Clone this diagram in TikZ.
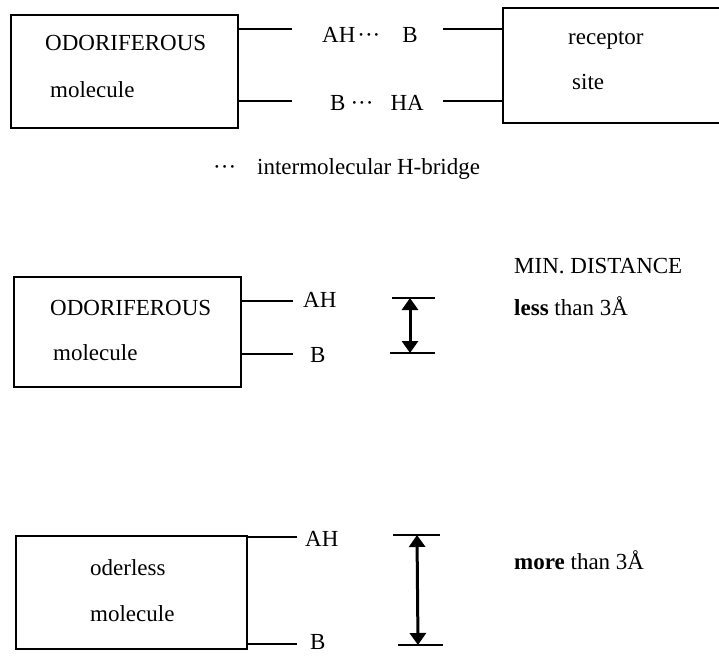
\documentclass[tikz,border=0pt]{standalone}
\usepackage{fontspec}
\setmainfont{Liberation Serif}
\usetikzlibrary{arrows.meta}

\begin{document}
\begin{tikzpicture}[x=1pt,y=-1pt,
  box/.style={draw, line width=1.6pt, rectangle, inner sep=0pt, anchor=north west},
  lbl/.style={anchor=base west, inner sep=0pt, font=\fontsize{23}{27}\selectfont},
  link/.style={line width=1.6pt},
  bar/.style={line width=1.6pt},
  span/.style={line width=3pt, {Triangle[length=12pt,width=16pt]}-{Triangle[length=12pt,width=16pt]}}
]
\clip (0,0) rectangle (719,655);

% ---------- odoriferous molecule bound to the receptor site ----------
\node[box, minimum width=227pt, minimum height=113pt] (mol1) at (10,14) {};
\node[box, minimum width=240pt, minimum height=115pt] (rec) at (502,7) {};
\node[lbl] (t1a) at (45,50.5) {ODORIFEROUS};
\node[lbl] (t1b) at (50,98) {molecule};
\node[lbl] (t1c) at (568,45) {receptor};
\node[lbl] (t1d) at (572,90) {site};

\node[lbl] (hb1) at (322,42.5) {AH\hspace{2pt}···\hspace{22pt}B};
\node[lbl] (hb2) at (330,110.5) {B\hspace{5pt}···\hspace{17pt}HA};

\coordinate (u1) at (292,29);
\coordinate (u2) at (443,29);
\coordinate (l1) at (292,101);
\coordinate (l2) at (443,101);
\draw[link] (mol1.east |- u1) -- (u1);
\draw[link] (u2) -- (rec.west |- u2);
\draw[link] (mol1.east |- l1) -- (l1);
\draw[link] (l2) -- (rec.west |- l2);

\node[lbl] (legend) at (213,175) {···\hspace{21pt}intermolecular H-bridge};

% ---------- odoriferous molecule: short AH--B distance ----------
\node[box, minimum width=227pt, minimum height=110pt] (mol2) at (13,276) {};
\node[lbl] (t2a) at (50,315.5) {ODORIFEROUS};
\node[lbl] (t2b) at (53,360) {molecule};
\coordinate (a2) at (293,301);
\coordinate (b2) at (293,354);
\draw[link] (mol2.east |- a2) -- (a2);
\draw[link] (mol2.east |- b2) -- (b2);
\node[lbl] (ah2) at (303,307) {AH};
\node[lbl] (bb2) at (310,362) {B};

\coordinate (p2l) at (392,298);
\coordinate (p2r) at (435,298);
\coordinate (q2l) at (390,353);
\coordinate (q2r) at (435,353);
\draw[bar] (p2l) -- (p2r);
\draw[bar] (q2l) -- (q2r);
\coordinate (d2a) at (410,298);
\coordinate (d2b) at (410,353);
\draw[span] (d2a) -- (d2b);

\node[lbl] (md) at (514,273) {MIN. DISTANCE};
\node[lbl] (lt) at (514,315) {\textbf{less} than 3Å};

% ---------- odorless molecule: long AH--B distance ----------
\node[box, minimum width=231pt, minimum height=113pt] (mol3) at (15,535) {};
\node[lbl] (t3a) at (90,575) {oderless};
\node[lbl] (t3b) at (90,621) {molecule};
\coordinate (a3) at (297,537);
\coordinate (b3) at (297,644);
\draw[link] (mol3.east |- a3) -- (a3);
\draw[link] (mol3.east |- b3) -- (b3);
\node[lbl] (ah3) at (305,546) {AH};
\node[lbl] (bb3) at (310,649) {B};

\coordinate (p3l) at (393,535);
\coordinate (p3r) at (440,535);
\coordinate (q3l) at (398,645);
\coordinate (q3r) at (443,645);
\draw[bar] (p3l) -- (p3r);
\draw[bar] (q3l) -- (q3r);
\coordinate (d3a) at (417,535);
\coordinate (d3b) at (418,645);
\draw[span] (d3a) -- (d3b);

\node[lbl] (mt) at (514,569) {\textbf{more} than 3Å};
\end{tikzpicture}
\end{document}
